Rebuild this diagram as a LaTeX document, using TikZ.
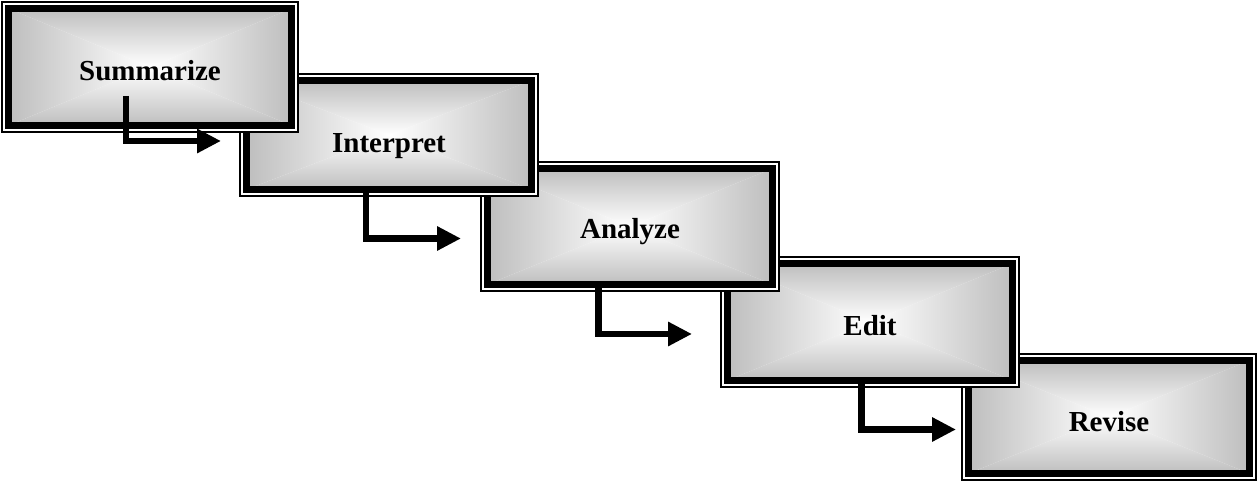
\documentclass[tikz,border=0pt]{standalone}
\usepackage{fontspec}
\setmainfont{Liberation Serif}
\usetikzlibrary{arrows.meta}

\definecolor{edgegray}{RGB}{190,190,190}

\tikzset{
  stage/.style={rectangle, inner sep=0pt, minimum width=5.70cm, minimum height=2.34cm,
    text height=0.56cm, text depth=0pt, font=\fontsize{16.5}{19.8}\selectfont\bfseries,
    preaction={draw=black, line width=8.14pt},
    preaction={draw=white, line width=6.66pt},
    draw=black, line width=4pt, fill=white,
    path picture={
      \coordinate (nw) at (path picture bounding box.north west);
      \coordinate (ne) at (path picture bounding box.north east);
      \coordinate (sw) at (path picture bounding box.south west);
      \coordinate (se) at (path picture bounding box.south east);
      \coordinate (mid) at (path picture bounding box.center);
      \shade[top color=edgegray, middle color=edgegray!35, bottom color=white] (nw) -- (ne) -- (mid) -- cycle;
      \shade[top color=white, middle color=edgegray!35, bottom color=edgegray] (sw) -- (se) -- (mid) -- cycle;
      \shade[left color=edgegray, middle color=edgegray!35, right color=white] (nw) -- (sw) -- (mid) -- cycle;
      \shade[left color=white, middle color=edgegray!35, right color=edgegray] (ne) -- (se) -- (mid) -- cycle;
    }},
  flow/.style={draw=black, line width=3.7pt, -{Triangle[length=0.48cm,width=0.46cm]}}
}

\begin{document}
\begin{tikzpicture}[x=0.02cm, y=-0.02cm]
\useasboundingbox (0,0) rectangle (1258,482);

\node[stage, minimum width=5.62cm, minimum height=2.26cm, text height=0.6cm] (revise) at (1109,417) {Revise};
\node[stage] (edit) at (870,322) {Edit};
\node[stage, minimum height=2.32cm, text height=0.5cm] (analyze) at (630,226.5) {Analyze};
\node[stage, minimum height=2.18cm, text height=0.72cm] (interpret) at (389,135) {Interpret};
\node[stage, minimum width=5.66cm] (summarize) at (150,67) {Summarize};

\draw[flow] ([shift={(-24,-33)}]summarize.south) |- ([shift={(-22,6)}]interpret.west);
\draw[flow] ([shift={(-23,0)}]interpret.south) |- ([shift={(-23,12)}]analyze.west);
\draw[flow] ([shift={(-31.5,0)}]analyze.south) |- ([shift={(-32,12)}]edit.west);
\draw[flow] ([shift={(-8.5,0)}]edit.south) |- ([shift={(-9,12.5)}]revise.west);
\end{tikzpicture}
\end{document}
